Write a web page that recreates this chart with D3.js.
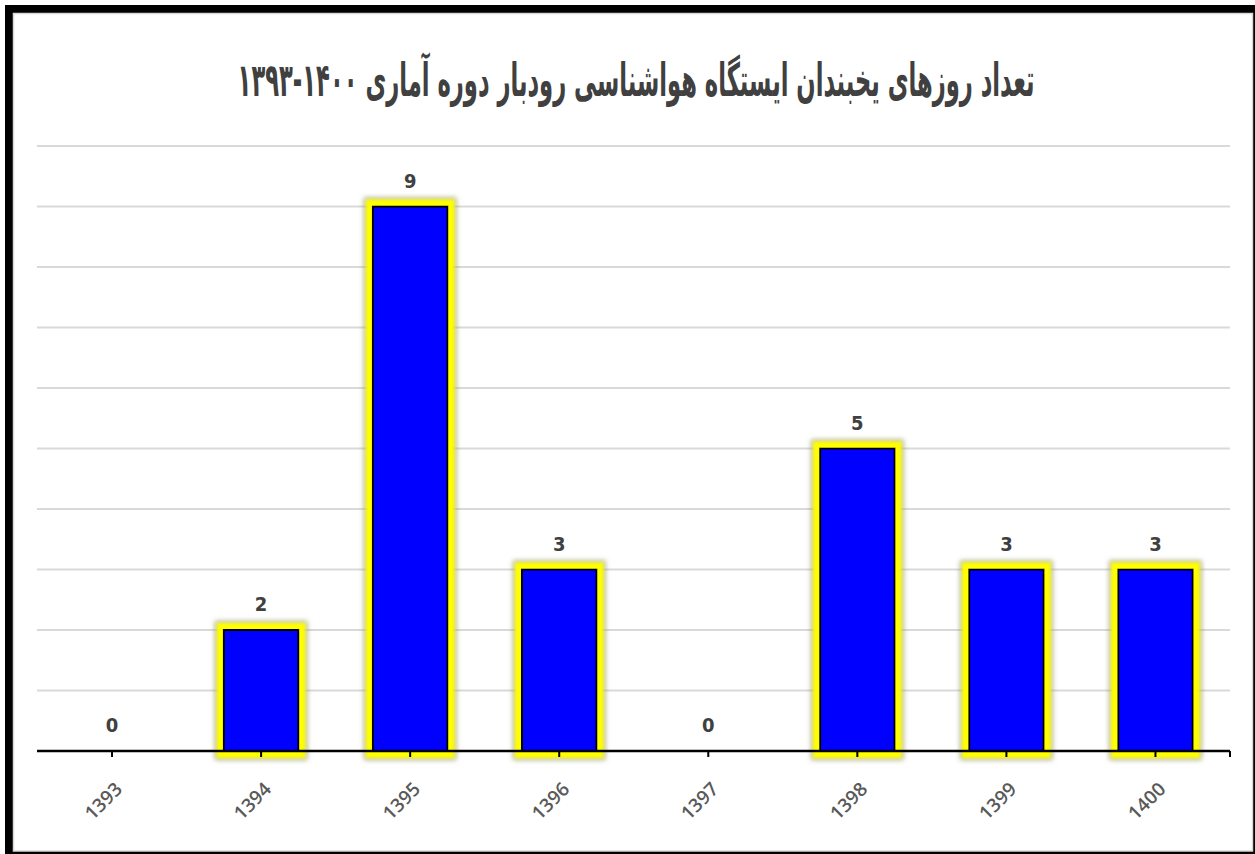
<!DOCTYPE html>
<html>
<head>
<meta charset="utf-8">
<script src="https://cdn.jsdelivr.net/npm/d3@7/dist/d3.min.js"></script>
<style>
  html, body { margin: 0; padding: 0; background: #ffffff; }
  svg { display: block; }
</style>
</head>
<body>
<svg id="chart" width="1255" height="854"></svg>
<script>
// Frost days at Rudbar meteorological station, 1393–1400
const years = ["1393", "1394", "1395", "1396", "1397", "1398", "1399", "1400"];
const frostDays = [0, 2, 9, 3, 0, 5, 3, 3];
const yTicks = [0, 1, 2, 3, 4, 5, 6, 7, 8, 9, 10];
const titleText = "تعداد روزهای یخبندان  ایستگاه هواشناسی رودبار دوره آماری ۱۴۰۰-۱۳۹۳";

const W = 1255, H = 854;
const svg = d3.select("#chart");

// Frame: thick dark edge with light inner line
svg.append("rect").attr("x", 5).attr("y", 5).attr("width", W - 5).attr("height", H - 5).attr("fill", "#000");
svg.append("rect").attr("x", 13.5).attr("y", 13.5).attr("width", 1239).attr("height", 837.5)
  .attr("fill", "#fff").attr("stroke", "#d9d9d9").attr("stroke-width", 1.5);

// Glow filter for bars
const defs = svg.append("defs");
const glow = defs.append("filter").attr("id", "glow")
  .attr("x", "-30%").attr("y", "-30%").attr("width", "160%").attr("height", "160%");
glow.append("feMorphology").attr("in", "SourceAlpha").attr("operator", "dilate").attr("radius", 8).attr("result", "d1");
glow.append("feGaussianBlur").attr("in", "d1").attr("stdDeviation", 2.5).attr("result", "b1");
glow.append("feFlood").attr("flood-color", "#7a7a40").attr("flood-opacity", 0.6).attr("result", "c1");
glow.append("feComposite").attr("in", "c1").attr("in2", "b1").attr("operator", "in").attr("result", "shade");
glow.append("feMorphology").attr("in", "SourceAlpha").attr("operator", "dilate").attr("radius", 6).attr("result", "d2");
glow.append("feGaussianBlur").attr("in", "d2").attr("stdDeviation", 1.5).attr("result", "b2");
glow.append("feFlood").attr("flood-color", "#ffff00").attr("result", "c2");
glow.append("feComposite").attr("in", "c2").attr("in2", "b2").attr("operator", "in").attr("result", "yel");
const merge = glow.append("feMerge");
merge.append("feMergeNode").attr("in", "shade");
merge.append("feMergeNode").attr("in", "yel");
merge.append("feMergeNode").attr("in", "SourceGraphic");

const x = d3.scaleBand().domain(years).range([37.5, 1230]).paddingInner(0.5).paddingOuter(0.25);
const y = d3.scaleLinear().domain([0, 10]).range([751, 146]);

// Title, squeezed horizontally to a fixed width
const titleWidth = 797;
const title = svg.append("text")
  .attr("x", 0).attr("y", 0)
  .attr("text-anchor", "middle")
  .attr("direction", "rtl")
  .attr("font-family", "'DejaVu Sans', sans-serif")
  .attr("font-weight", "bold")
  .attr("font-size", 46)
  .attr("fill", "#404040")
  .text(titleText);
const natural = title.node().getComputedTextLength();
title.attr("transform", `translate(636,96) scale(${titleWidth / natural},1)`);

// Horizontal gridlines
svg.append("g").selectAll("line").data(yTicks.filter(d => d > 0)).join("line")
  .attr("x1", 37).attr("x2", 1230)
  .attr("y1", d => y(d)).attr("y2", d => y(d))
  .attr("stroke", "#d9d9d9").attr("stroke-width", 2);

// Bars
svg.append("g").selectAll("rect").data(frostDays.map((v, i) => ({ year: years[i], v })).filter(d => d.v > 0)).join("rect")
  .attr("x", d => x(d.year))
  .attr("y", d => y(d.v))
  .attr("width", x.bandwidth())
  .attr("height", d => y(0) - y(d.v))
  .attr("fill", "#0000ff")
  .attr("stroke", "#000")
  .attr("stroke-width", 2)
  .attr("filter", "url(#glow)");

// Value labels
svg.append("g").selectAll("text").data(frostDays.map((v, i) => ({ year: years[i], v }))).join("text")
  .attr("x", d => x(d.year) + x.bandwidth() / 2)
  .attr("y", d => y(d.v) - 19)
  .attr("text-anchor", "middle")
  .attr("font-family", "'DejaVu Sans Condensed', 'DejaVu Sans', sans-serif")
  .attr("font-weight", "bold")
  .attr("font-size", 20)
  .attr("fill", "#404040")
  .text(d => d.v);

// X axis
const xAxis = d3.axisBottom(x).tickSize(6).tickSizeOuter(0);
const gx = svg.append("g").attr("transform", `translate(0,${y(0)})`).call(xAxis);
gx.select(".domain").attr("stroke", "#000").attr("stroke-width", 2.5).attr("d", "M37,0H1230");
gx.selectAll(".tick line").attr("stroke", "#000").attr("stroke-width", 2);
gx.append("line").attr("x1", 1230).attr("x2", 1230).attr("y1", 0).attr("y2", 6)
  .attr("stroke", "#000").attr("stroke-width", 2);
gx.selectAll(".tick text")
  .attr("font-family", "'Open Sans', sans-serif")
  .attr("font-weight", 600)
  .attr("font-size", 19)
  .attr("fill", "#595959")
  .attr("text-anchor", "end")
  .attr("dx", 0).attr("dy", 0)
  .attr("transform", "translate(5,33) rotate(-45)");
</script>
</body>
</html>
